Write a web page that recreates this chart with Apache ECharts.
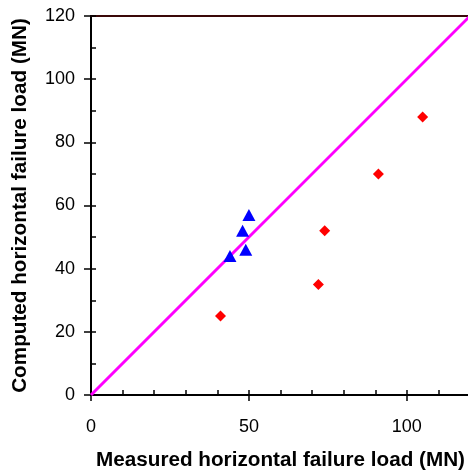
<!DOCTYPE html>
<html>
<head>
<meta charset="utf-8">
<script src="https://cdn.jsdelivr.net/npm/echarts@6/dist/echarts.min.js"></script>
<style>
html,body{margin:0;padding:0;background:#fff;}
#chart{width:468px;height:470px;}
</style>
</head>
<body>
<div id="chart"></div>
<script>
// Data
const measuredRed = [41, 72, 74, 91, 105];
const computedRed = [25, 35, 52, 70, 88];
const measuredBlue = [44, 48, 49, 50];
const computedBlue = [44, 52, 46, 57];
const lineX = [0, 120];
const lineY = [0, 120];
const xTitle = 'Measured horizontal failure load (MN)';
const yTitle = 'Computed horizontal failure load (MN)';

const pairs = (xs, ys) => xs.map((x, i) => [x, ys[i]]);
const FONT = '"Liberation Sans", Arial, sans-serif';

const chart = echarts.init(document.getElementById('chart'), null, {renderer: 'canvas'});
chart.setOption({
  animation: false,
  backgroundColor: '#fff',
  grid: {left: 91, top: 16, width: 379, height: 379, containLabel: false, outerBoundsMode: 'none'},
  xAxis: [
    {
      type: 'value', min: 0, max: 120, interval: 50, position: 'bottom',
      axisLine: {show: true, onZero: false, lineStyle: {color: '#000', width: 2}},
      axisTick: {show: true, inside: false, length: 6, lineStyle: {color: '#000', width: 1.5}},
      axisLabel: {fontSize: 18, color: '#000', fontFamily: FONT, margin: 23, showMaxLabel: false},
      splitLine: {show: false},
      name: xTitle, nameLocation: 'middle', nameGap: 55,
      nameTextStyle: {fontSize: 20.7, fontWeight: 'bold', color: '#000', fontFamily: FONT}
    },
    {
      type: 'value', min: 0, max: 120, interval: 10, position: 'bottom',
      axisLine: {show: false, onZero: false},
      axisTick: {show: true, inside: true, length: 5, lineStyle: {color: '#000', width: 1.5}},
      axisLabel: {show: false}, splitLine: {show: false}
    },
    {
      type: 'value', min: 0, max: 120, position: 'top',
      axisLine: {show: true, onZero: false, lineStyle: {color: '#3a0808', width: 2}},
      axisTick: {show: false}, axisLabel: {show: false}, splitLine: {show: false}
    }
  ],
  yAxis: [
    {
      type: 'value', min: 0, max: 120, interval: 20, position: 'left',
      axisLine: {show: true, onZero: false, lineStyle: {color: '#000', width: 2}},
      axisTick: {show: true, inside: false, length: 7, lineStyle: {color: '#000', width: 1.5}},
      axisLabel: {fontSize: 18, color: '#000', fontFamily: FONT, margin: 16},
      splitLine: {show: false},
      name: yTitle, nameLocation: 'middle', nameGap: 60,
      nameTextStyle: {fontSize: 20.7, fontWeight: 'bold', color: '#000', fontFamily: FONT}
    },
    {
      type: 'value', min: 0, max: 120, interval: 10, position: 'left',
      axisLine: {show: false, onZero: false},
      axisTick: {show: true, inside: true, length: 5, lineStyle: {color: '#000', width: 1.5}},
      axisLabel: {show: false}, splitLine: {show: false}
    }
  ],
  series: [
    {
      type: 'line', xAxisIndex: 0, yAxisIndex: 0,
      data: pairs(lineX, lineY), showSymbol: false, symbol: 'none',
      lineStyle: {color: '#FF00FF', width: 3}, z: 2
    },
    {
      type: 'scatter', xAxisIndex: 0, yAxisIndex: 0,
      data: pairs(measuredRed, computedRed), symbol: 'diamond', symbolSize: 11,
      itemStyle: {color: '#FF0000', opacity: 1}, z: 3
    },
    {
      type: 'scatter', xAxisIndex: 0, yAxisIndex: 0,
      data: pairs(measuredBlue, computedBlue), symbol: 'triangle', symbolSize: [13, 12],
      itemStyle: {color: '#0000FF', opacity: 1}, z: 3
    }
  ]
});
</script>
</body>
</html>
